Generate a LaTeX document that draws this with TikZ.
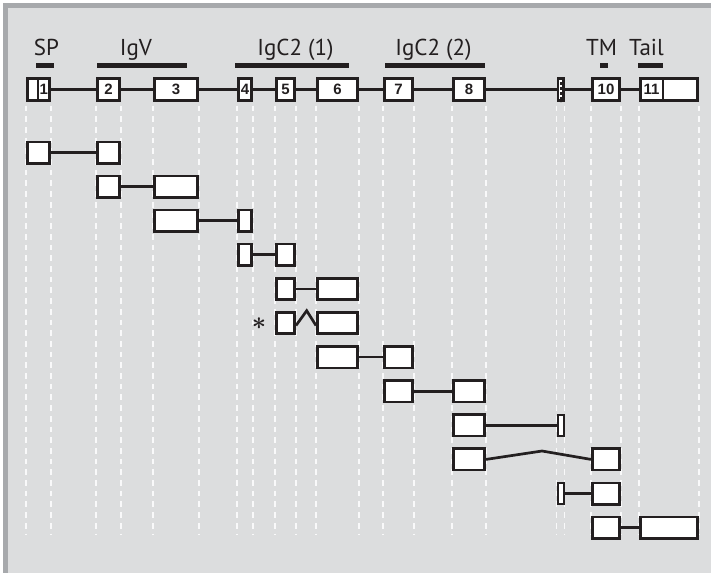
\documentclass[tikz,border=0pt]{standalone}
\usepackage{fontspec}
\setmainfont{PT Sans}
\newfontfamily\numfont{Liberation Sans}
\definecolor{ink}{HTML}{231F20}
\definecolor{panel}{HTML}{DCDDDE}
\definecolor{band}{HTML}{A7A9AC}
\tikzset{
  exon/.style={draw=ink, fill=white, line width=2.6pt, inner sep=0pt,
    minimum height=21.4pt, text=ink, font=\numfont\bfseries\fontsize{15}{15}\selectfont},
  slim/.style={line width=2.2pt, minimum width=5.8pt},
  intron/.style={draw=ink, line width=2.7pt},
  domainbar/.style={draw=ink, line width=5pt},
  guide/.style={draw=white, opacity=0.85, line width=1.8pt, dash pattern=on 5.7pt off 5pt},
  dlabel/.style={anchor=base, text=ink, font=\fontsize{23}{26}\selectfont}
}

\begin{document}
\begin{tikzpicture}[x=1pt, y=-1pt]
\useasboundingbox (0,0) rectangle (711,574);
\fill[band] (3,3) rectangle (711,573);
\fill[panel] (8,8) rectangle (711,573);

% domains
\draw (46.5,55) node[dlabel] (sp) {SP};
\draw (136,55) node[dlabel] (igv) {IgV};
\draw (295.5,55) node[dlabel] (igc1) {IgC2 (1)};
\draw (433.5,55) node[dlabel] (igc2) {IgC2 (2)};
\draw (601.5,55) node[dlabel] (tm) {TM};
\draw (646.5,55) node[dlabel] (tail) {Tail};
\draw[domainbar] (36,65.5) -- (54,65.5);
\draw[domainbar] (97,65.5) -- (187,65.5);
\draw[domainbar] (235,65.5) -- (349,65.5);
\draw[domainbar] (385,65.5) -- (485,65.5);
\draw[domainbar] (600,65.5) -- (608,65.5);
\draw[domainbar] (638,65.5) -- (663,65.5);

% gene
\draw (32.65,89.5) node[exon, minimum width=10.7pt, minimum height=22.4pt] (u1) {};
\draw (43.85,89.5) node[exon, minimum width=11.7pt, minimum height=22.4pt] (e1) {1};
\draw (108.5,89.5) node[exon, minimum width=22.4pt, minimum height=22.4pt] (e2) {2};
\draw (176,89.5) node[exon, minimum width=43.4pt, minimum height=22.4pt] (e3) {3};
\draw (245,89.5) node[exon, minimum width=13.4pt, minimum height=22.4pt] (e4) {4};
\draw (285.5,89.5) node[exon, minimum width=18.4pt, minimum height=22.4pt] (e5) {5};
\draw (337.5,89.5) node[exon, minimum width=40.4pt, minimum height=22.4pt] (e6) {6};
\draw (398.5,89.5) node[exon, minimum width=28.4pt, minimum height=22.4pt] (e7) {7};
\draw (469,89.5) node[exon, minimum width=31.4pt, minimum height=22.4pt] (e8) {8};
\draw (560.5,89.5) node[exon, minimum width=5.4pt, minimum height=22.4pt] (e9) {};
\draw (606,89.5) node[exon, minimum width=27.4pt, minimum height=22.4pt] (e10) {10};
\draw (651.65,89.5) node[exon, minimum width=22.7pt, minimum height=22.4pt] (e11) {11};
\draw (680.35,89.5) node[exon, minimum width=34.7pt, minimum height=22.4pt] (u11) {};
\draw[ink, line width=2pt, dash pattern=on 2.6pt off 2.4pt] (e9.north) -- (e9.south);
\draw[intron] (e1) -- (e2);
\draw[intron] (e2) -- (e3);
\draw[intron] (e3) -- (e4);
\draw[intron] (e4) -- (e5);
\draw[intron] (e5) -- (e6);
\draw[intron] (e6) -- (e7);
\draw[intron] (e7) -- (e8);
\draw[intron] (e8) -- (e9);
\draw[intron] (e9) -- (e10);
\draw[intron] (e10) -- (e11);

% guides
\foreach \n/\a in {u1/west, e1/east, e2/west, e2/east, e3/west, e3/east,
    e4/west, e4/east, e5/west, e5/east, e6/west, e6/east, e7/west, e7/east,
    e8/west, e8/east, e9/west, e9/east, e10/west, e10/east, e11/west, u11/east}
  \draw[guide] ([yshift=-3.5pt]\n.south \a) -- ++(0,429);

% transcripts
\draw (38.5,152.5) node[exon, minimum width=22.4pt] (r1a) {};
\draw (108.5,152.5) node[exon, minimum width=22.4pt] (r1b) {};
\draw (108.5,186.6) node[exon, minimum width=22.4pt] (r2a) {};
\draw (176,186.6) node[exon, minimum width=43.4pt] (r2b) {};
\draw (176,220.7) node[exon, minimum width=43.4pt] (r3a) {};
\draw (245,220.7) node[exon, minimum width=13.4pt] (r3b) {};
\draw (245,254.8) node[exon, minimum width=13.4pt] (r4a) {};
\draw (285.5,254.8) node[exon, minimum width=18.4pt] (r4b) {};
\draw (285.5,288.9) node[exon, minimum width=18.4pt] (r5a) {};
\draw (337.5,288.9) node[exon, minimum width=40.4pt] (r5b) {};
\draw (285.5,323) node[exon, minimum width=18.4pt] (r6a) {};
\draw (337.5,323) node[exon, minimum width=40.4pt] (r6b) {};
\draw (337.5,357.1) node[exon, minimum width=40.4pt] (r7a) {};
\draw (398.5,357.1) node[exon, minimum width=28.4pt] (r7b) {};
\draw (398.5,391.2) node[exon, minimum width=28.4pt] (r8a) {};
\draw (469,391.2) node[exon, minimum width=31.4pt] (r8b) {};
\draw (469,425.3) node[exon, minimum width=31.4pt] (r9a) {};
\draw (561,425.3) node[exon, slim] (r9b) {};
\draw (469,459.4) node[exon, minimum width=31.4pt] (r10a) {};
\draw (606,459.4) node[exon, minimum width=27.4pt] (r10b) {};
\draw (561,493.5) node[exon, slim] (r11a) {};
\draw (606,493.5) node[exon, minimum width=27.4pt] (r11b) {};
\draw (606,527.6) node[exon, minimum width=27.4pt] (r12a) {};
\draw (669,527.6) node[exon, minimum width=57.4pt] (r12b) {};
\draw (259,329.5) node[anchor=base, text=ink, font=\fontsize{23}{23}\selectfont\boldmath] (star) {$\ast$};
\coordinate (kink6) at (306.7,310.7);
\coordinate (kink10) at (542,451);
\draw[intron] (r1a) -- (r1b);
\draw[intron] (r2a) -- (r2b);
\draw[intron] (r3a) -- (r3b);
\draw[intron] (r4a) -- (r4b);
\draw[intron] (r5a) -- (r5b);
\draw[intron] ([yshift=-2.5pt]r6a.east) -- (kink6) -- ([yshift=-2.5pt]r6b.west);
\draw[intron] (r7a) -- (r7b);
\draw[intron] (r8a) -- (r8b);
\draw[intron] (r9a) -- (r9b);
\draw[intron] (r10a.east) -- (kink10) -- (r10b.west);
\draw[intron] (r11a) -- (r11b);
\draw[intron] (r12a) -- (r12b);
\end{tikzpicture}
\end{document}
